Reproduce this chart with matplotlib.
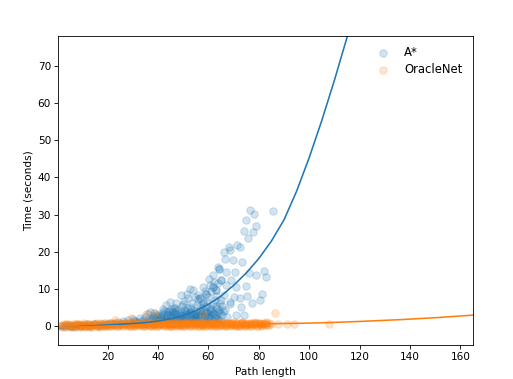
import numpy as np
import matplotlib
matplotlib.use("Agg")
import matplotlib.pyplot as plt

# scatter points: (path length, seconds)
astar_points = [
    (2, 0.1), (3, -0.2), (4, 0.3), (5, 0.0), (6, 0.2), (7, -0.1), (8, 0.4), (9, 0.1),
    (10, 0.3), (11, 0.0), (12, 0.5), (13, 0.2), (14, 0.3), (15, 0.6), (16, 0.1), (17, 0.4),
    (18, 0.7), (19, 0.3), (20, 0.5), (21, 0.9), (22, 0.4), (23, 0.8), (24, 1.1), (25, 0.6),
    (26, 1.3), (27, 0.9), (28, 1.6), (29, 1.0), (30, 2.0), (30.5, 1.3), (31, 1.5), (32, 0.9),
    (33, 2.2), (34, 1.8), (35, 2.6), (35.5, 1.2), (36, 3.3), (36.5, 2.0), (37, 3.8), (37.5, 1.6),
    (38, 2.8), (38.5, 3.5), (39, 1.9), (39.5, 2.5), (40, 3.0), (40.5, 1.4), (41, 2.2), (41.5, 3.6),
    (42, 1.8), (42.5, 4.2), (43, 5.7), (43.5, 2.9), (44, 3.4), (44.5, 1.5), (45, 4.6), (45.5, 2.6),
    (46, 3.9), (46.5, 5.0), (47, 6.3), (47.5, 2.1), (48, 4.4), (48.5, 3.2), (49, 8.3), (49.5, 5.4),
    (50, 2.7), (50.5, 6.8), (51, 4.1), (51.5, 3.0), (52, 7.5), (52.5, 5.2), (52.8, 10.1), (53, 2.4),
    (53.5, 6.2), (53.9, 9.7), (54, 4.0), (54.5, 8.0), (55, 3.3), (55.5, 5.8), (56, 7.2), (56.5, 7.5),
    (57, 2.8), (57.5, 4.9), (57.9, 10.6), (58, 6.6), (58.5, 3.7), (59, 8.8), (59.2, 5.5), (59.5, 2.5),
    (60, 7.8), (60.2, 12.8), (60.5, 4.3), (61, 9.4), (61.5, 3.1), (61.8, 13.7), (61.8, 10.6), (62, 6.0),
    (62.5, 2.2), (63, 8.2), (63.1, 9.7), (63.5, 4.8), (63.8, 16.0), (64, 11.6), (64.4, 15.5), (64.5, 3.6),
    (65, 7.0), (65.1, 12.4), (65.5, 5.4),
    (35, 0.8), (38, 1.0), (40, 0.9), (42, 1.2), (44, 0.8), (46, 1.3), (48, 1.0), (50, 1.4),
    (52, 1.1), (54, 1.6), (56, 1.2), (58, 1.8), (60, 1.5), (62, 1.2), (64, 2.0), (45, 1.9),
    (55, 2.0), (59, 1.3), (47, 3.0), (51, 2.0), (53, 3.5), (57, 4.0), (61, 5.0), (63, 3.0),
    (49, 2.3), (41, 1.0), (43, 1.6), (39, 0.8), (34, 0.7), (32, 1.2), (56, 3.0), (60, 3.5),
    (38.2, 2.2), (39.2, 3.0), (40.2, 1.8), (41.2, 2.8), (42.2, 3.2), (43.2, 2.3), (44.2, 4.0),
    (45.2, 3.1), (46.2, 2.4), (47.2, 4.1), (48.2, 2.7), (49.2, 3.8), (50.2, 4.5), (51.2, 3.4),
    (52.2, 2.6), (53.2, 4.6), (54.2, 3.0), (55.2, 4.2), (56.2, 2.4), (57.2, 3.4), (58.2, 4.5),
    (59.2, 3.9), (60.2, 2.8), (61.2, 4.2), (62.2, 3.4), (63.2, 5.5), (64.2, 4.4), (65.2, 3.0),
    (45.8, 1.0), (48.8, 1.6), (51.8, 1.3), (54.8, 2.5), (57.8, 1.5), (60.8, 2.1), (63.8, 1.3),
    (50.6, 3.6), (53.6, 1.9), (56.6, 5.4), (59.6, 6.5), (62.6, 7.0), (64.6, 6.2), (58.8, 9.5),
    (55.8, 8.5), (51.6, 8.8), (60.6, 11.0), (62.4, 12.0), (49.8, 6.0), (46.8, 4.8), (44.6, 6.4),
    (41.8, 4.6),
    (40.7, 2.5), (42.7, 1.4), (44.7, 2.7), (46.7, 3.5), (48.7, 2.0), (50.7, 2.3), (52.7, 3.9),
    (54.7, 1.9), (56.7, 3.8), (58.7, 2.7), (60.7, 4.6), (62.7, 2.6), (64.7, 1.8), (65.7, 4.0),
    (43.7, 3.8), (47.7, 1.8), (51.7, 4.9), (55.7, 3.0), (59.7, 2.1), (63.7, 3.9), (49.7, 3.1),
    (53.7, 2.9), (57.7, 6.0), (61.7, 3.6), (45.7, 4.0), (36.7, 1.4), (33.7, 1.3), (30.7, 0.9),
    # sparse upper tail
    (76.4, 31.2), (78, 30.3), (85.6, 31.1), (74.8, 28.5), (78.8, 26.9), (74, 25.7), (77.7, 25.4),
    (75.7, 23.6), (71.3, 21.8), (68.2, 21.4), (66, 20.0), (68.7, 20.5), (72.4, 21.4), (66.6, 18.2),
    (69.8, 17.8), (73.5, 17.3), (64.4, 15.5), (67.1, 14.6), (70.4, 14.6), (76.1, 14.2), (79, 13.7),
    (82, 14.9), (83, 13.3), (65.1, 12.4), (75, 10.9), (71.1, 10.6), (81.2, 8.8), (75.5, 8.1),
    (72.4, 7.5), (68.4, 6.6), (77.4, 6.3), (80.3, 7.0), (68.7, 5.9), (73.1, 5.2), (71.1, 3.0),
    (74, 3.0), (67.5, 2.5), (56.5, 7.5), (59.2, 8.8), (61.8, 10.6), (63.1, 9.7), (66, 8.5),
    (67, 11.0), (69, 12.5), (66.5, 4.5), (70, 8.0),
]

oracle_points = [
    (1, 0.1), (2, -0.2), (3, 0.3), (4, 0.0), (5, 0.4), (6, -0.1), (7, 0.2), (8, 0.5),
    (9, 0.0), (10, 0.3), (11, 0.6), (12, 0.1), (13, 0.4), (14, -0.1), (15, 0.5), (16, 0.2),
    (17, 0.7), (18, 0.0), (19, 0.3), (20, 0.6), (21, 0.1), (22, 0.8), (23, 0.4), (24, 0.2),
    (25, 0.7), (26, 0.0), (27, 0.5), (28, 0.9), (29, 0.3), (30, 0.6), (31, 0.1), (32, 0.8),
    (33, 0.4), (34, 1.0), (35, 0.2), (36, 0.6), (37, 0.9), (38, 0.3), (39, 0.7), (40, 0.0),
    (41, 0.5), (42, 1.1), (43, 0.4), (44, 0.8), (45, 0.2), (46, 0.6), (47, 1.0), (48, 0.3),
    (49, 0.7), (50, 0.1), (51, 0.9), (52, 0.5), (53, 1.2), (54, 0.3), (55, 0.7), (56, 0.0),
    (57, 0.8), (58, 0.4), (59, 1.1), (60, 0.6), (61, 0.2), (62, 0.9), (63, 0.5), (64, 1.0),
    (65, 0.3), (66, 0.7), (67, 0.1), (68, 0.8), (69, 0.4), (70, 1.1), (71, 0.6), (72, 0.2),
    (73, 0.9), (74, 0.5), (75, 0.0), (76, 0.7), (77, 1.0), (78, 0.3), (79, 0.6), (80, 0.8),
    (81, 0.2), (82, 0.5), (83, 0.9), (84, 0.4),
    (1.5, 0.3), (2.5, 0.0), (3.5, 0.5), (4.5, 0.2), (5.5, -0.1), (6.5, 0.4), (7.5, 0.1), (8.5, 0.6),
    (9.5, 0.2), (10.5, -0.1), (11.5, 0.4), (12.5, 0.7), (13.5, 0.0), (14.5, 0.3), (15.5, 0.8), (16.5, 0.2),
    (17.5, 0.5), (18.5, 0.9), (19.5, 0.1), (20.5, 0.4), (21.5, 0.2), (22.5, 0.6), (23.5, 1.0), (24.5, 0.3),
    (25.5, 0.5), (26.5, 0.9), (27.5, 0.1), (28.5, 0.4), (29.5, 0.8), (30.5, 0.2), (31.5, 0.5), (32.5, 1.0),
    (33.5, 0.0), (34.5, 0.6), (35.5, 0.3), (36.5, 1.1), (37.5, 0.5), (38.5, 0.1), (39.5, 0.8), (40.5, 0.4),
    (41.5, 0.7), (42.5, 0.2), (43.5, 1.0), (44.5, 0.5), (45.5, 0.0), (46.5, 0.8), (47.5, 0.3), (48.5, 1.1),
    (49.5, 0.6), (50.5, 0.2), (51.5, 0.7), (52.5, 0.0), (53.5, 0.9), (54.5, 0.5), (55.5, 1.2), (56.5, 0.4),
    (57.5, 0.1), (58.5, 0.8), (59.5, 0.3), (60.5, 1.0), (61.5, 0.6), (62.5, 0.0), (63.5, 0.7), (64.5, 0.3),
    (65.5, 1.1), (66.5, 0.5), (67.5, 0.9), (68.5, 0.2), (69.5, 0.6), (70.5, 0.0), (71.5, 0.8), (72.5, 0.4),
    (73.5, 1.0), (74.5, 0.3), (75.5, 0.7), (76.5, 0.1), (77.5, 0.5), (78.5, 0.9), (79.5, 0.2), (80.5, 0.6),
    (81.5, 1.0), (82.5, 0.3),
    (3.2, 0.6), (5.2, 0.1), (7.2, 0.5), (9.2, -0.2), (11.2, 0.3), (13.2, 0.7), (15.2, 0.0), (17.2, 0.3),
    (19.2, 0.8), (21.2, 0.5), (23.2, 0.1), (25.2, 0.9), (27.2, 0.4), (29.2, 0.0), (31.2, 0.7), (33.2, 1.0),
    (35.2, 0.5), (37.2, 0.1), (39.2, 1.1), (41.2, 0.3), (43.2, 0.8), (45.2, 0.6), (47.2, 0.0), (49.2, 0.4),
    (51.2, 1.1), (53.2, 0.2), (55.2, 0.9), (57.2, 0.5), (59.2, 0.0), (61.2, 0.8), (63.2, 0.2), (65.2, 0.6),
    (67.2, 1.0), (69.2, 0.5), (71.2, 0.1), (73.2, 1.1), (75.2, 0.4), (77.2, 0.8), (79.2, 0.0), (81.2, 0.7),
    (83.2, 0.3),
    (2.8, 0.4), (4.8, 0.6), (6.8, 0.0), (8.8, 0.3), (10.8, 0.8), (12.8, 0.2), (14.8, 0.6), (16.8, -0.1),
    (18.8, 0.4), (20.8, 0.9), (22.8, 0.3), (24.8, 0.6), (26.8, 1.0), (28.8, 0.2), (30.8, 0.5), (32.8, 0.3),
    (34.8, 0.8), (36.8, 0.0), (38.8, 0.6), (40.8, 1.0), (42.8, 0.5), (44.8, 0.2), (46.8, 0.9), (48.8, 0.4),
    (50.8, 0.6), (52.8, 0.8), (54.8, 0.1), (56.8, 0.5), (58.8, 1.0), (60.8, 0.3), (62.8, 0.7), (64.8, 0.4),
    (66.8, 1.0), (68.8, 0.6), (70.8, 0.3), (72.8, 0.9), (74.8, 0.5), (76.8, 0.2), (78.8, 0.8), (80.8, 0.4),
    (82.8, 0.7), (84.2, 1.0),
    (30.4, 0.9), (32.4, 0.4), (34.4, 0.1), (36.4, 0.7), (38.4, 0.4), (40.4, 1.2), (42.4, 0.6), (44.4, 0.0),
    (46.4, 0.4), (48.4, 0.7), (50.4, 0.3), (52.4, 1.0), (54.4, 0.6), (56.4, 0.2), (58.4, 0.7), (60.4, 0.4),
    (62.4, 1.0), (64.4, 0.0), (66.4, 0.3), (68.4, 0.9), (70.4, 0.6), (72.4, 0.0), (74.4, 0.8), (76.4, 0.5),
    (78.4, 1.1), (80.4, 0.5),
    (40.2, 0.6), (43.2, 0.1), (46.2, 0.5), (49.2, 0.9), (52.2, 0.3), (55.2, 0.6), (58.2, 0.2), (61.2, 0.5),
    (64.2, 0.8), (67.2, 0.4), (70.2, 0.3), (73.2, 0.7), (44.8, 1.2), (50.8, 1.0), (56.8, 1.1), (62.8, 1.2),
    (5.1, 0.3), (8.1, 0.7), (11.1, 0.1), (14.1, 0.5), (17.1, 0.9), (20.1, 0.2), (23.1, 0.6), (26.1, 0.3),
    (29.1, 1.0), (32.1, 0.6), (35.1, 0.9), (38.1, 0.7), (41.1, 0.9), (44.1, 0.5), (47.1, 0.7), (50.1, 0.8),
    (53.1, 0.6), (56.1, 0.9), (59.1, 0.6), (62.1, 0.4), (65.1, 0.9), (68.1, 0.5), (71.1, 0.9), (74.1, 0.2),
    (77.1, 0.5), (80.1, 1.0),
    (6.6, 0.6), (9.6, 0.4), (12.6, -0.1), (15.6, 0.4), (18.6, 0.2), (21.6, 0.7), (24.6, 0.0), (27.6, 0.7),
    (30.6, 0.3), (33.6, 0.7), (36.6, 0.4), (39.6, 0.2), (42.6, 0.9), (45.6, 0.8), (48.6, 0.1), (51.6, 0.4),
    (54.6, 1.0), (57.6, 0.7), (60.6, 0.8), (63.6, 1.0), (66.6, 0.1), (69.6, 0.8), (72.6, 0.6), (75.6, 1.0),
    (78.6, 0.6), (81.6, 0.5),
    # stragglers
    (22.8, 1.6), (29.4, 2.2), (35.4, 3.4), (38.7, 3.6), (57.9, 3.4), (86.3, 3.7), (83, 1.2),
    (85, 0.6), (87.6, 0.6), (91, 0.6), (93.9, 0.6), (107.8, 0.5),
]

# fitted curves
astar_fit_x = [0.5, 10, 20, 30, 35, 40, 45, 50, 55, 60, 65, 70, 75, 80, 85,
               90, 95, 100, 105, 110, 115, 118]
astar_fit_y = [-0.4, 0.0, 0.35, 0.75, 1.0, 1.4, 2.0, 2.9, 4.2, 5.9, 8.1, 11.0, 14.3, 18.2, 22.9,
               28.6, 36.3, 45.3, 55.3, 66.1, 77.6, 84.7]
oracle_fit_x = [0.5, 20, 40, 60, 80, 100, 108, 120, 136.6, 150, 165]
oracle_fit_y = [-0.3, 0.05, 0.3, 0.5, 0.65, 0.85, 1.0, 1.3, 1.8, 2.3, 3.0]

astar_x, astar_y = np.array(astar_points).T
oracle_x, oracle_y = np.array(oracle_points).T

fig = plt.figure(figsize=(513 / 76, 379 / 76), dpi=76)
ax = fig.add_axes([0.114, 0.09, 0.808, 0.815])

ax.scatter(astar_x, astar_y, s=50, alpha=0.2, color="C0", label="A*")
ax.scatter(oracle_x, oracle_y, s=50, alpha=0.2, color="C1", label="OracleNet")
ax.plot(astar_fit_x, astar_fit_y, color="C0", lw=1.5)
ax.plot(oracle_fit_x, oracle_fit_y, color="C1", lw=1.5)

ax.set_xlim(0.5, 165)
ax.set_ylim(-5, 78)
ax.set_yticks([0, 10, 20, 30, 40, 50, 60, 70])
ax.set_xticks([20, 40, 60, 80, 100, 120, 140, 160])
ax.set_xlabel("Path length")
ax.set_ylabel("Time (seconds)")
ax.legend(loc="upper right", frameon=False, fontsize=11, labelspacing=0.32)

fig.savefig("out.png", dpi=76)
